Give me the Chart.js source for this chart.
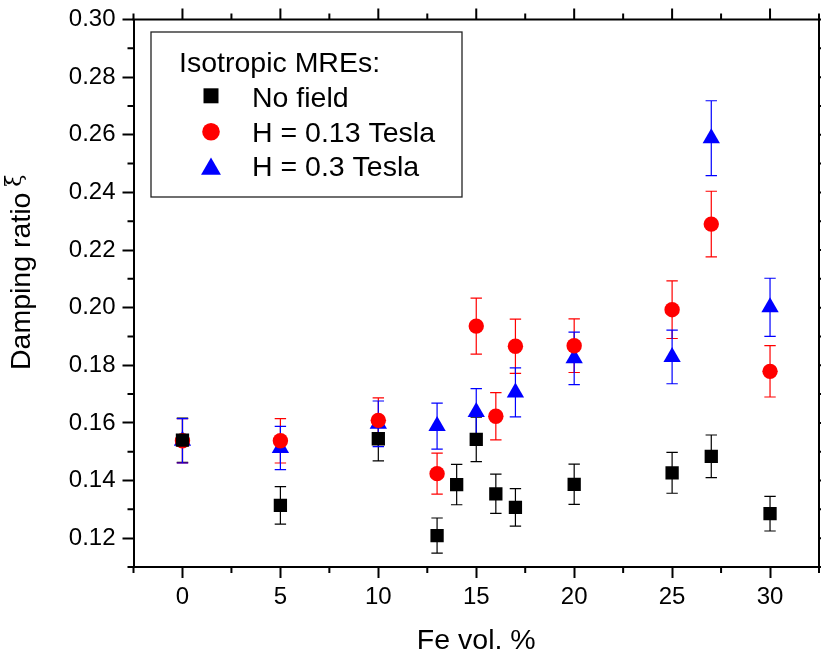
<!DOCTYPE html>
<html>
<head>
<meta charset="utf-8">
<script src="https://cdn.jsdelivr.net/npm/chart.js@4.4.1/dist/chart.umd.min.js"></script>
<style>
  html, body { margin: 0; padding: 0; background: #fff; }
  #wrap { width: 821px; height: 656px; position: relative; }
</style>
</head>
<body>
<div id="wrap"><canvas id="c" width="821" height="656"></canvas></div>
<script>
// ---- data ----
const seriesNames = ['No field', 'H = 0.13 Tesla', 'H = 0.3 Tesla'];
const legendTitle = 'Isotropic MREs:';
const xTitle = 'Fe vol. %';
const yTitleMain = 'Damping ratio ';
const yTitleSym = '\u03BE';

const blackX = [0, 5, 10, 13, 14, 15, 16, 17, 20, 25, 27, 30];
const blackY = [0.154, 0.1314, 0.1545, 0.1209, 0.1386, 0.1543, 0.1354, 0.1307, 0.1387, 0.1427, 0.1484, 0.1285];
const blackErr = [0.0077, 0.0065, 0.0077, 0.0061, 0.007, 0.0077, 0.0068, 0.0065, 0.007, 0.0071, 0.0074, 0.006];

const redX = [0, 5, 10, 13, 15, 16, 17, 20, 25, 27, 30];
const redY = [0.1538, 0.1538, 0.1609, 0.1424, 0.1936, 0.1623, 0.1866, 0.1868, 0.1993, 0.229, 0.1779];
const redErr = [0.0077, 0.0077, 0.0078, 0.0071, 0.0097, 0.0082, 0.0094, 0.0093, 0.01, 0.0114, 0.0089];

const blueX = [0, 5, 10, 13, 15, 17, 20, 25, 27, 30];
const blueY = [0.1538, 0.1513, 0.1597, 0.1589, 0.1638, 0.1706, 0.1824, 0.1829, 0.2588, 0.2001];
const blueErr = [0.0077, 0.0075, 0.0079, 0.008, 0.0081, 0.0085, 0.0091, 0.0093, 0.013, 0.0101];

const xTickValues = [0, 5, 10, 15, 20, 25, 30];
const xMinorValues = [-2.5, 2.5, 7.5, 12.5, 17.5, 22.5, 27.5, 32.5];
const yTickValues = [0.12, 0.14, 0.16, 0.18, 0.20, 0.22, 0.24, 0.26, 0.28, 0.30];
const yMinorValues = [0.11, 0.13, 0.15, 0.17, 0.19, 0.21, 0.23, 0.25, 0.27, 0.29];

// ---- styling ----
const FONT = '"Liberation Sans", Arial, Helvetica, sans-serif';
const FS = 24;      // tick labels
const FT = 28.5;    // titles and legend
const colors = ['#000000', '#ff0000', '#0000ff'];
const styles = ['rect', 'circle', 'triangle'];
const radii = [9.4, 7.7, 10];
const legendRadii = [10.6, 8.8, 11.5];

function pts(xs, ys) { return xs.map((x, i) => ({ x: x, y: ys[i] })); }
const errs = [blackErr, redErr, blueErr];

const errorBars = {
  id: 'errorBars',
  beforeDatasetsDraw(chart) {
    const ctx = chart.ctx, xs = chart.scales.x, ys = chart.scales.y;
    chart.data.datasets.forEach((ds, i) => {
      const e = errs[i];
      ctx.save();
      ctx.strokeStyle = colors[i];
      ctx.lineWidth = 1.2;
      ds.data.forEach((p, j) => {
        const px = xs.getPixelForValue(p.x);
        const yt = ys.getPixelForValue(p.y + e[j]);
        const yb = ys.getPixelForValue(p.y - e[j]);
        ctx.beginPath();
        ctx.moveTo(px, yt); ctx.lineTo(px, yb);
        ctx.moveTo(px - 5.7, yt); ctx.lineTo(px + 5.7, yt);
        ctx.moveTo(px - 5.7, yb); ctx.lineTo(px + 5.7, yb);
        ctx.stroke();
      });
      ctx.restore();
    });
  }
};

function marker(ctx, style, x, y, r, color) {
  ctx.fillStyle = color;
  ctx.beginPath();
  if (style === 'rect') {
    const s = Math.SQRT1_2 * r;
    ctx.rect(x - s, y - s, 2 * s, 2 * s);
  } else if (style === 'circle') {
    ctx.arc(x, y, r, 0, Math.PI * 2);
  } else {
    ctx.moveTo(x, y - r);
    ctx.lineTo(x + r * Math.sin(2 * Math.PI / 3), y + 0.5 * r);
    ctx.lineTo(x - r * Math.sin(2 * Math.PI / 3), y + 0.5 * r);
    ctx.closePath();
  }
  ctx.fill();
}

const frame = {
  id: 'frame',
  afterDraw(chart) {
    const ctx = chart.ctx, xs = chart.scales.x, ys = chart.scales.y;
    const a = chart.chartArea;
    ctx.save();
    ctx.strokeStyle = '#000';
    ctx.lineWidth = 2;
    ctx.beginPath();
    ctx.moveTo(a.left - 1, a.top); ctx.lineTo(a.right, a.top);
    ctx.moveTo(a.right, a.top); ctx.lineTo(a.right, a.bottom + 1);
    ctx.stroke();
    ctx.beginPath();
    xTickValues.forEach(v => {
      const px = xs.getPixelForValue(v);
      ctx.moveTo(px, a.top); ctx.lineTo(px, a.top - 11);
    });
    xMinorValues.forEach(v => {
      const px = xs.getPixelForValue(v);
      ctx.moveTo(px, a.bottom); ctx.lineTo(px, a.bottom + 6);
      ctx.moveTo(px, a.top); ctx.lineTo(px, a.top - 6);
    });
    yMinorValues.forEach(v => {
      const py = ys.getPixelForValue(v);
      ctx.moveTo(a.left, py); ctx.lineTo(a.left - 6, py);
      ctx.moveTo(a.right, py); ctx.lineTo(a.right + 6, py);
    });
    yTickValues.forEach(v => {
      const py = ys.getPixelForValue(v);
      ctx.moveTo(a.right, py); ctx.lineTo(a.right + 11, py);
    });
    ctx.stroke();

    // axis titles
    ctx.fillStyle = '#000';
    ctx.font = FT + 'px ' + FONT;
    ctx.textAlign = 'center';
    ctx.textBaseline = 'alphabetic';
    ctx.fillText(xTitle, (a.left + a.right) / 2, 649);
    ctx.save();
    ctx.translate(29.5, 370);
    ctx.rotate(-Math.PI / 2);
    ctx.textAlign = 'left';
    ctx.fillText(yTitleMain, 0, 0);
    const w = ctx.measureText(yTitleMain).width;
    ctx.font = '22px "DejaVu Serif", serif';
    ctx.fillText(yTitleSym, w - 2, -9);
    ctx.restore();

    // legend
    ctx.lineWidth = 1.3;
    ctx.strokeStyle = '#222';
    ctx.fillStyle = '#fff';
    ctx.fillRect(151, 32, 311, 165);
    ctx.strokeRect(151, 32, 311, 165);
    ctx.fillStyle = '#000';
    ctx.font = FT + 'px ' + FONT;
    ctx.textAlign = 'left';
    ctx.fillText(legendTitle, 179, 71.5);
    const rowsY = [107, 141.5, 176];
    const mY = [95.8, 131.7, 169];
    seriesNames.forEach((n, i) => {
      marker(ctx, styles[i], 211, mY[i], legendRadii[i], colors[i]);
      ctx.fillStyle = '#000';
      ctx.fillText(n, 252, rowsY[i]);
    });
    ctx.restore();
  }
};

const datasets = [
  { label: seriesNames[0], data: pts(blackX, blackY) },
  { label: seriesNames[1], data: pts(redX, redY) },
  { label: seriesNames[2], data: pts(blueX, blueY) }
].map((d, i) => Object.assign(d, {
  showLine: false,
  pointStyle: styles[i],
  pointRadius: radii[i],
  pointHoverRadius: radii[i],
  backgroundColor: colors[i],
  borderColor: colors[i],
  pointBorderWidth: 0,
  borderWidth: 0
}));

new Chart(document.getElementById('c'), {
  type: 'scatter',
  data: { datasets },
  plugins: [errorBars, frame],
  options: {
    responsive: false,
    animation: false,
    devicePixelRatio: 1,
    layout: { autoPadding: false, padding: { top: 19.5, right: 2, left: 0, bottom: 0 } },
    plugins: { legend: { display: false }, tooltip: { enabled: false } },
    scales: {
      x: {
        type: 'linear',
        min: -2.5, max: 32.5,
        afterFit: s => { s.height = 89; s.paddingLeft = 0; s.paddingRight = 0; },
        afterBuildTicks: s => { s.ticks = xTickValues.map(v => ({ value: v })); },
        grid: { drawOnChartArea: false, drawTicks: true, tickLength: 11, tickWidth: 2, tickColor: '#000' },
        border: { display: true, color: '#000', width: 2 },
        ticks: { color: '#000', font: { family: FONT, size: FS }, padding: 5, maxRotation: 0, callback: v => String(v) }
      },
      y: {
        type: 'linear',
        min: 0.11, max: 0.30,
        afterFit: s => { s.width = 133.5; s.paddingTop = 0; s.paddingBottom = 0; },
        afterBuildTicks: s => { s.ticks = yTickValues.map(v => ({ value: v })); },
        grid: { drawOnChartArea: false, drawTicks: true, tickLength: 11, tickWidth: 2, tickColor: '#000' },
        border: { display: true, color: '#000', width: 2 },
        ticks: { color: '#000', font: { family: FONT, size: FS }, padding: 7, callback: v => v.toFixed(2) }
      }
    }
  }
});
</script>
</body>
</html>
